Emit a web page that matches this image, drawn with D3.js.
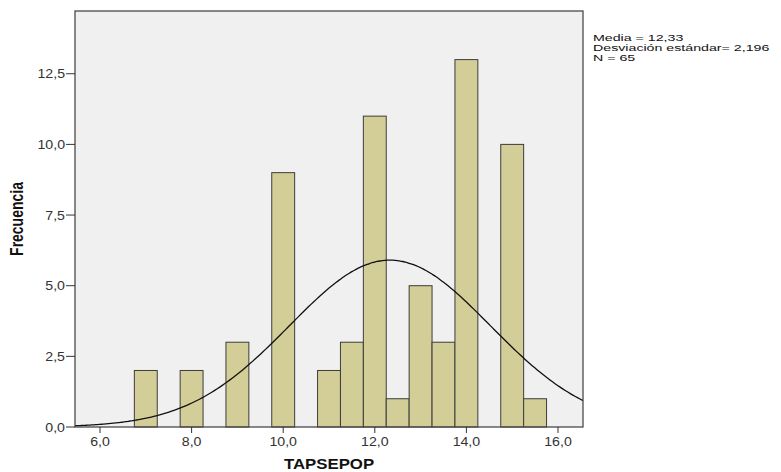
<!DOCTYPE html>
<html>
<head>
<meta charset="utf-8">
<script src="https://cdn.jsdelivr.net/npm/d3@7"></script>
<style>
  body { margin: 0; background: #fff; }
  svg { display: block; font-family: Arial, "Liberation Sans", sans-serif; }
</style>
</head>
<body>
<svg width="781" height="472"></svg>
<script>
// data
const binCenters = [7, 8, 9, 10, 11, 11.5, 12, 12.5, 13, 13.5, 14, 15, 15.5]
const counts = [2, 2, 3, 9, 2, 3, 11, 1, 5, 3, 13, 10, 1]
const binWidth = 0.5
const xTicks = [6, 8, 10, 12, 14, 16]
const yTicks = [0, 2.5, 5, 7.5, 10, 12.5]
const stats = ['Media = 12,33', 'Desviación estándar= 2,196', 'N = 65']
const mean = 12.33
const sd = 2.196
const n = 65

// dimensions
const plot = { left: 75, top: 11, right: 583, bottom: 427 }
const stretch = 1.18   // the source picture is wider than tall

const $svg = d3.select('svg')

const scaleX = d3.scaleLinear().domain([5.454, 16.546]).range([plot.left, plot.right])
const scaleY = d3.scaleLinear().domain([0, 14.72]).range([plot.bottom, plot.top])

const fmt = d => d3.format('.1f')(d).replace('.', ',')

function normal(x){
  const z = (x - mean) / sd
  return n * binWidth * Math.exp(-0.5 * z * z) / (sd * Math.sqrt(2 * Math.PI))
}

function render(){
  // plot area
  $svg.append('rect')
    .attr('x', plot.left)
    .attr('y', plot.top)
    .attr('width', plot.right - plot.left)
    .attr('height', plot.bottom - plot.top)
    .attr('fill', '#f0f0f0')

  // bars
  $svg.append('g')
    .selectAll('rect')
    .data(binCenters.map((c, i) => ({ c, v: counts[i] })))
    .enter()
    .append('rect')
    .attr('x', d => scaleX(d.c - binWidth / 2))
    .attr('width', d => scaleX(d.c + binWidth / 2) - scaleX(d.c - binWidth / 2))
    .attr('y', d => scaleY(d.v))
    .attr('height', d => scaleY(0) - scaleY(d.v))
    .attr('fill', '#d3ce97')
    .attr('stroke', '#3c3c3c')
    .attr('stroke-width', 1)

  // normal curve
  const [x0, x1] = scaleX.domain()
  const xs = d3.range(0, 201).map(i => x0 + i * (x1 - x0) / 200)
  $svg.append('path')
    .datum(xs)
    .attr('fill', 'none')
    .attr('stroke', '#111')
    .attr('stroke-width', 1.3)
    .attr('d', d3.line().x(d => scaleX(d)).y(d => scaleY(normal(d))).curve(d3.curveBasis))

  // frame
  $svg.append('rect')
    .attr('x', plot.left)
    .attr('y', plot.top)
    .attr('width', plot.right - plot.left)
    .attr('height', plot.bottom - plot.top)
    .attr('fill', 'none')
    .attr('stroke', '#4a4a4a')
    .attr('stroke-width', 1.3)

  // y axis
  const $yAxis = $svg.append('g')
  $yAxis.selectAll('line')
    .data(yTicks)
    .enter()
    .append('line')
    .attr('x1', plot.left - 9)
    .attr('x2', plot.left)
    .attr('y1', d => scaleY(d))
    .attr('y2', d => scaleY(d))
    .attr('stroke', '#333')
  $yAxis.selectAll('text')
    .data(yTicks)
    .enter()
    .append('text')
    .attr('transform', d => `translate(${plot.left - 10}, ${scaleY(d) + 4.5}) scale(${stretch}, 1)`)
    .attr('text-anchor', 'end')
    .attr('font-size', 12)
    .attr('fill', '#333')
    .text(fmt)

  // x axis
  const $xAxis = $svg.append('g')
  $xAxis.selectAll('line')
    .data(xTicks)
    .enter()
    .append('line')
    .attr('x1', d => scaleX(d))
    .attr('x2', d => scaleX(d))
    .attr('y1', plot.bottom)
    .attr('y2', plot.bottom + 6)
    .attr('stroke', '#333')
  $xAxis.selectAll('text')
    .data(xTicks)
    .enter()
    .append('text')
    .attr('transform', d => `translate(${scaleX(d)}, ${plot.bottom + 19}) scale(${stretch}, 1)`)
    .attr('text-anchor', 'middle')
    .attr('font-size', 12)
    .attr('fill', '#333')
    .text(fmt)

  // axis titles
  $svg.append('text')
    .attr('transform', `translate(${(plot.left + plot.right) / 2}, 469) scale(1.2, 1)`)
    .attr('text-anchor', 'middle')
    .attr('font-size', 14)
    .attr('font-weight', 'bold')
    .attr('fill', '#111')
    .text('TAPSEPOP')

  $svg.append('text')
    .attr('transform', `translate(23, 219) rotate(-90) scale(1, 1.3)`)
    .attr('text-anchor', 'middle')
    .attr('font-size', 14)
    .attr('font-weight', 'bold')
    .attr('fill', '#111')
    .text('Frecuencia')

  // stats box, one text block with a line per value
  $svg.append('text')
    .attr('transform', `translate(${plot.right + 10}, 41) scale(1.58, 1)`)
    .attr('font-size', 9)
    .attr('fill', '#111')
    .selectAll('tspan')
    .data(stats)
    .enter()
    .append('tspan')
    .attr('x', 0)
    .attr('dy', (d, i) => i === 0 ? 0 : 10.2)
    .text(d => d)
}

render()
</script>
</body>
</html>
